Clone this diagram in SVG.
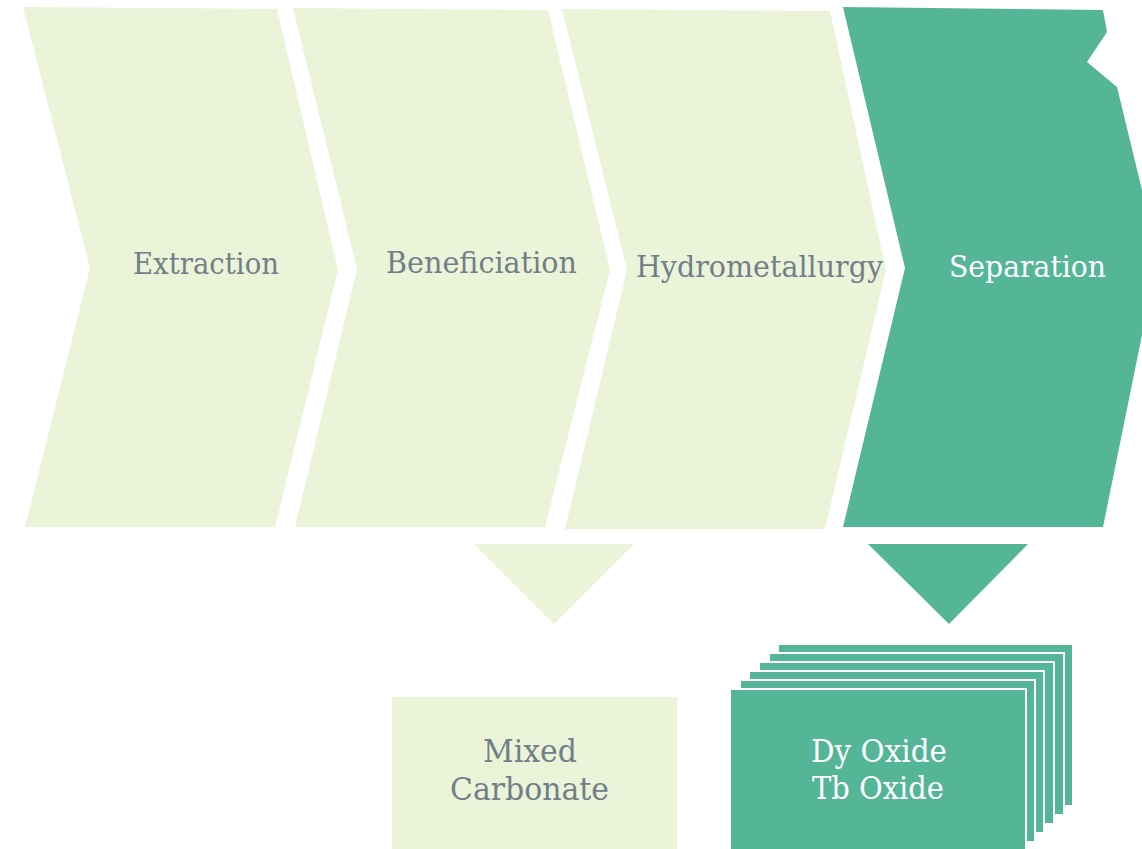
<svg xmlns="http://www.w3.org/2000/svg" width="1142" height="849" viewBox="0 0 1142 849">
<style>
.light{fill:#ebf4d8;}
.dark{fill:#54b597;}
.stack{fill:#54b597;stroke:#ffffff;stroke-width:2;}
.lbl{font-family:"DejaVu Serif","Liberation Serif",serif;font-size:29px;fill:#717f88;text-anchor:middle;}
.wlbl{font-family:"DejaVu Serif","Liberation Serif",serif;font-size:29px;fill:#ffffff;text-anchor:middle;}
.big{font-size:31px;}
</style>
<rect x="0" y="0" width="1142" height="849" fill="#ffffff"/>
<g id="extraction">
<polygon class="light" points="23,7 277,9 338,270 275,527 25,527 90,268"/>
<text class="lbl" x="206" y="274" textLength="146" lengthAdjust="spacingAndGlyphs">Extraction</text>
</g>
<g id="beneficiation">
<polygon class="light" points="293,8 548,10 610,270 545,527 295,527 357,269"/>
<text class="lbl" x="481.5" y="273" textLength="191" lengthAdjust="spacingAndGlyphs">Beneficiation</text>
</g>
<g id="hydrometallurgy">
<polygon class="light" points="562,9 830,11 886,270 825,529 565,529 627,270"/>
<text class="lbl" x="759.5" y="277" textLength="247" lengthAdjust="spacingAndGlyphs">Hydrometallurgy</text>
</g>
<g id="separation">
<polygon class="dark" points="843,7 1103,10 1107,32 1087,62 1117,87 1142,190 1142,335 1103,527 843,527 905,268"/>
<text class="wlbl" x="1027.5" y="277" textLength="157" lengthAdjust="spacingAndGlyphs">Separation</text>
</g>
<g id="connectors">
<polygon class="light" points="474,544 634,544 554,624"/>
<polygon class="dark" points="868,544 1028,544 949,624"/>
</g>
<g id="mixed-carbonate">
<rect class="light" x="392" y="697" width="285" height="160"/>
<text class="lbl big" x="530" y="762" textLength="94" lengthAdjust="spacingAndGlyphs">Mixed</text>
<text class="lbl big" x="529.5" y="800" textLength="159" lengthAdjust="spacingAndGlyphs">Carbonate</text>
</g>
<g id="oxides">
<rect class="stack" x="778" y="644" width="295" height="162"/>
<rect class="stack" x="769" y="653" width="295" height="162"/>
<rect class="stack" x="759" y="662" width="295" height="162"/>
<rect class="stack" x="749" y="671" width="295" height="162"/>
<rect class="stack" x="740" y="680" width="295" height="162"/>
<rect class="stack" x="730" y="689" width="296" height="170"/>
<text class="wlbl big" x="879" y="762" textLength="136" lengthAdjust="spacingAndGlyphs">Dy Oxide</text>
<text class="wlbl big" x="878" y="799" textLength="132" lengthAdjust="spacingAndGlyphs">Tb Oxide</text>
</g>
</svg>
